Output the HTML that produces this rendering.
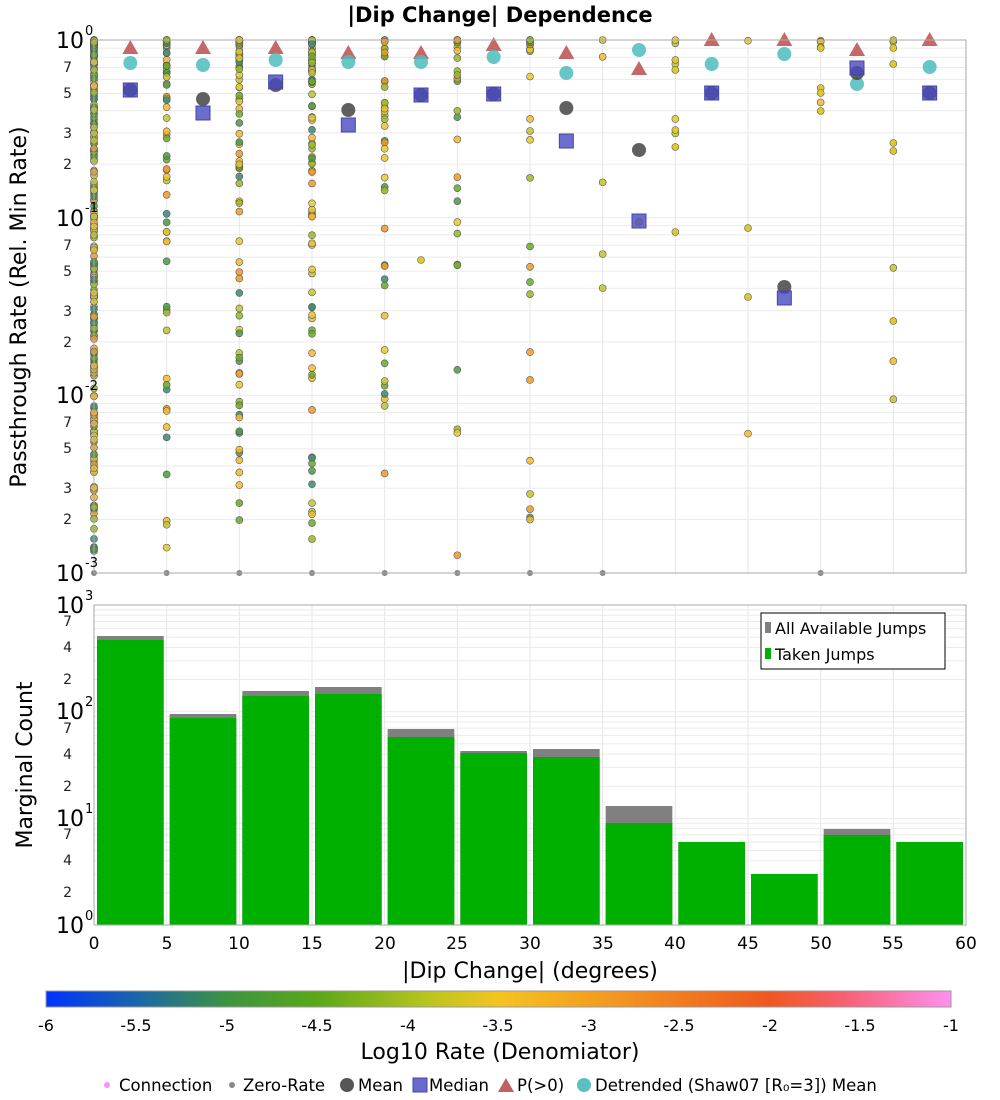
<!DOCTYPE html>
<html><head><meta charset="utf-8"><style>
body{margin:0;background:#fff;width:1000px;height:1100px;overflow:hidden}
svg{display:block;font-family:"DejaVu Sans","Liberation Sans",sans-serif}
</style></head><body>
<svg id="s" width="1000" height="1100" xmlns="http://www.w3.org/2000/svg">
<defs>
<linearGradient id="cb" x1="0" x2="1" y1="0" y2="0">
<stop offset="0" stop-color="#0033ff"/>
<stop offset="0.1" stop-color="#1a66aa"/>
<stop offset="0.2" stop-color="#3d9440"/>
<stop offset="0.3" stop-color="#5aa818"/>
<stop offset="0.42" stop-color="#b8c420"/>
<stop offset="0.5" stop-color="#f5c322"/>
<stop offset="0.62" stop-color="#f39a20"/>
<stop offset="0.8" stop-color="#ee5820"/>
<stop offset="0.88" stop-color="#f56070"/>
<stop offset="1" stop-color="#ff90f0"/>
</linearGradient>
</defs>
<g id="grid"></g>
<g id="bars"></g>
<g id="dots"></g>
<g id="sum"></g>
<rect x="94" y="40" width="872" height="533" fill="none" stroke="#aaa"/>
<rect x="94" y="605" width="872" height="320" fill="none" stroke="#aaa"/>
<text x="500" y="22" font-size="21" font-weight="bold" text-anchor="middle">|Dip Change| Dependence</text>
<g font-size="22" text-anchor="end">
<text x="84" y="48">10</text><text x="84" y="226">10</text><text x="84" y="403">10</text><text x="84" y="581">10</text>
<text x="84" y="613">10</text><text x="84" y="719">10</text><text x="84" y="826">10</text><text x="84" y="933">10</text>
</g>
<g font-size="13">
<text x="85" y="35">0</text><text x="85" y="212">-1</text><text x="85" y="390">-2</text><text x="85" y="567">-3</text>
<text x="85" y="600">3</text><text x="85" y="706">2</text><text x="85" y="813">1</text><text x="85" y="920">0</text>
</g>
<g font-size="14" text-anchor="end" fill="#222">
<text x="72" y="72">7</text><text x="72" y="98">5</text><text x="72" y="138">3</text><text x="72" y="169">2</text>
<text x="72" y="250">7</text><text x="72" y="276">5</text><text x="72" y="316">3</text><text x="72" y="347">2</text>
<text x="72" y="427">7</text><text x="72" y="453">5</text><text x="72" y="493">3</text><text x="72" y="524">2</text>
<text x="72" y="626">7</text><text x="72" y="652">4</text><text x="72" y="684">2</text>
<text x="72" y="733">7</text><text x="72" y="759">4</text><text x="72" y="791">2</text>
<text x="72" y="839">7</text><text x="72" y="865">4</text><text x="72" y="897">2</text>
</g>
<g font-size="17" text-anchor="middle">
<text x="94" y="949">0</text><text x="167" y="949">5</text><text x="239" y="949">10</text><text x="312" y="949">15</text><text x="385" y="949">20</text><text x="457" y="949">25</text><text x="530" y="949">30</text><text x="603" y="949">35</text><text x="675" y="949">40</text><text x="748" y="949">45</text><text x="821" y="949">50</text><text x="893" y="949">55</text><text x="966" y="949">60</text>
</g>
<text x="530" y="978" font-size="22" text-anchor="middle">|Dip Change| (degrees)</text>
<text transform="translate(26,307) rotate(-90)" font-size="22" text-anchor="middle">Passthrough Rate (Rel. Min Rate)</text>
<text transform="translate(32,765) rotate(-90)" font-size="22" text-anchor="middle">Marginal Count</text>
<rect x="761" y="613" width="184" height="56" fill="#fff" stroke="#000"/>
<rect x="765" y="622" width="6" height="11" fill="#808080"/><text x="775" y="634" font-size="16">All Available Jumps</text>
<rect x="765" y="648" width="6" height="11" fill="#00b000"/><text x="775" y="660" font-size="16">Taken Jumps</text>
<rect x="46" y="991" width="905" height="16" fill="url(#cb)" stroke="#999"/>
<g font-size="16" text-anchor="middle">
<text x="46" y="1031">-6</text><text x="136" y="1031">-5.5</text><text x="227" y="1031">-5</text><text x="317" y="1031">-4.5</text><text x="408" y="1031">-4</text><text x="498" y="1031">-3.5</text><text x="589" y="1031">-3</text><text x="679" y="1031">-2.5</text><text x="770" y="1031">-2</text><text x="860" y="1031">-1.5</text><text x="951" y="1031">-1</text>
</g>
<text x="500" y="1059" font-size="22" text-anchor="middle">Log10 Rate (Denomiator)</text>
<g font-size="16.5">
<circle cx="107" cy="1085" r="3" fill="#ff90f0"/><text x="119" y="1091">Connection</text>
<circle cx="232" cy="1085" r="3" fill="#888"/><text x="243" y="1091">Zero-Rate</text>
<circle cx="347" cy="1085" r="7" fill="#555"/><text x="358" y="1091">Mean</text>
<rect x="413" y="1078" width="14" height="14" fill="#6a6acc" stroke="#4444aa"/><text x="429" y="1091">Median</text>
<polygon points="506,1078 514,1092 498,1092" fill="#c06060"/><text x="517" y="1091">P(&gt;0)</text>
<circle cx="584" cy="1085" r="7" fill="#5bbfbf"/><text x="595" y="1091">Detrended (Shaw07 [R₀=3]) Mean</text>
</g>
</svg>
<script>
var NS="http://www.w3.org/2000/svg";
function el(p,t,a){var e=document.createElementNS(NS,t);for(var k in a)e.setAttribute(k,a[k]);document.getElementById(p).appendChild(e);return e;}
function X(d){return 94+d*872/60;}
function YT(v){return 40-Math.log10(v)*177.67;}
function YB(c){return 925-Math.log10(c)*106.67;}
for(var d=5;d<60;d+=5){el("grid","line",{x1:X(d),x2:X(d),y1:40,y2:573,stroke:"#e6e6e6"});el("grid","line",{x1:X(d),x2:X(d),y1:605,y2:925,stroke:"#e6e6e6"});}
for(var e=-3;e<0;e++)for(var m=1;m<10;m++){var y=YT(m*Math.pow(10,e));el("grid","line",{x1:94,x2:966,y1:y,y2:y,stroke:"#ebebeb"});}
for(var e=0;e<3;e++)for(var m=1;m<10;m++){var y=YB(m*Math.pow(10,e));el("grid","line",{x1:94,x2:966,y1:y,y2:y,stroke:"#ebebeb"});}
var A=[636,714,691,687,729,751,749,806,842,874,829,842],T=[640,718,696,694,737,753,757,823,842,874,835,842];
for(var i=0;i<12;i++){var x0=X(i*5)+3,w=872/12-6;el("bars","rect",{x:x0,y:A[i],width:w,height:925-A[i],fill:"#808080"});el("bars","rect",{x:x0,y:T[i],width:w,height:925-T[i],fill:"#00b000"});}
var seed=7;function R(){seed=(seed*16807)%2147483647;return (seed-1)/2147483646;}
var cols=["#4a9a40","#6aaa20","#9ab820","#c0c428","#e8c828","#f5b828","#f09a20","#3a8a70"];
var cnt=[300,75,110,110,45,35,30,5,5,2,5,5];
for(var i=0;i<12;i++){for(var k=0;k<cnt[i];k++){var r=R();var lv=-Math.pow(r,(i==0?2.2:3.6))*2.9;var y=YT(Math.pow(10,lv));var c=cols[Math.floor(R()*(i<5?8:7))];if(i>6)c=cols[3+Math.floor(R()*3)];el("dots","circle",{cx:X(i*5),cy:y,r:3.5,fill:c,stroke:"#556","stroke-width":0.6,"fill-opacity":0.85});}}
[[22.5,260],[40,60],[40,70],[40,130],[40,147],[40,232],[45,228],[45,297],[55,48],[55,64],[55,143],[55,151],[55,321],[37.5,222],[50,48],[50,88],[50,93],[50,111]].forEach(function(p){el("dots","circle",{cx:X(p[0]),cy:p[1],r:3.5,fill:"#e0c828",stroke:"#556","stroke-width":0.6});});
[0,5,10,15,20,25,30,35,50].forEach(function(d){el("dots","circle",{cx:X(d),cy:573,r:3,fill:"#888"});});
var S=[[48,63,90,90],[48,65,99,113],[48,60,85,82],[53,62,110,125],[53,62,95,95],[45,57,94,94],[53,73,108,141],[69,50,150,221],[40,64,93,93],[40,54,287,298],[50,84,73,68],[40,67,93,93]];
for(var i=0;i<12;i++){var x=X(i*5+2.5),s=S[i];
el("sum","polygon",{points:(x)+","+(s[0]-8)+" "+(x+8)+","+(s[0]+6)+" "+(x-8)+","+(s[0]+6),fill:"#c05858","fill-opacity":0.9});
el("sum","circle",{cx:x,cy:s[1],r:7,fill:"#4cbcbc","fill-opacity":0.85});
el("sum","circle",{cx:x,cy:s[2],r:7,fill:"#444","fill-opacity":0.85});
el("sum","rect",{x:x-7,y:s[3]-7,width:14,height:14,fill:"#4848c0","fill-opacity":0.8,stroke:"#4444aa"});}
</script>
</body></html>
